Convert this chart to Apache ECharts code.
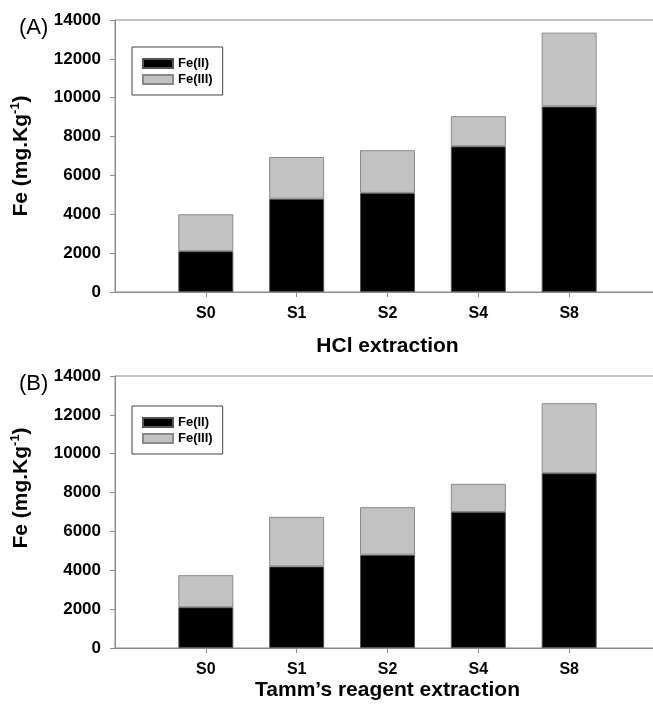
<!DOCTYPE html>
<html>
<head>
<meta charset="utf-8">
<script src="https://cdn.jsdelivr.net/npm/echarts@6/dist/echarts.min.js"></script>
<style>
html,body{margin:0;padding:0;background:#fff;}
#chart{width:653px;height:706px;}
</style>
</head>
<body>
<div id="chart"></div>
<script>
// ---- data ----
var categories = ['S0', 'S1', 'S2', 'S4', 'S8'];
var hclFe2 = [2100, 4800, 5100, 7500, 9550];
var hclFe3 = [1900, 2150, 2200, 1550, 3800];
var tammFe2 = [2100, 4200, 4800, 7000, 9000];
var tammFe3 = [1650, 2550, 2450, 1450, 3600];
var seriesNames = ['Fe(II)', 'Fe(III)'];
var panelLabels = ['(A)', '(B)'];
var xNames = ['HCl extraction', 'Tamm\u2019s reagent extraction'];
var yMin = 0, yMax = 14000, yStep = 2000;

// ---- build ----
var FONT = 'Liberation Sans, Arial, sans-serif';
var axisCats = [''].concat(categories, ['']);
function pad(arr) { return ['-'].concat(arr, ['-']); }
var AX = '#8a8a8a';

var grids = [
  {left: 115, top: 20, height: 272, width: 545, outerBoundsMode: 'none', containLabel: false, show: true, borderColor: AX, borderWidth: 1},
  {left: 115, top: 376, height: 272, width: 545, outerBoundsMode: 'none', containLabel: false, show: true, borderColor: AX, borderWidth: 1}
];

function xAxisFor(i, gap) {
  return {
    type: 'category', gridIndex: i, data: axisCats, boundaryGap: false,
    axisLine: {lineStyle: {color: AX, width: 1}},
    axisTick: {show: true, length: 5, lineStyle: {color: AX}, interval: function (idx) { return idx > 0 && idx < axisCats.length - 1; }},
    axisLabel: {color: '#000', fontFamily: FONT, fontWeight: 'bold', fontSize: 16, margin: 14, interval: 0},
    name: xNames[i], nameLocation: 'middle', nameGap: gap,
    nameTextStyle: {color: '#000', fontFamily: FONT, fontWeight: 'bold', fontSize: 21},
    splitLine: {show: false}
  };
}
function yAxisFor(i, padding) {
  return {
    type: 'value', gridIndex: i, min: yMin, max: yMax, interval: yStep,
    axisLine: {show: true, lineStyle: {color: AX, width: 1}},
    axisTick: {show: true, length: 5, lineStyle: {color: AX}},
    axisLabel: {color: '#000', fontFamily: FONT, fontWeight: 'bold', fontSize: 17, margin: 14,
      formatter: function (v) { return String(v); }},
    splitLine: {show: false},
    name: '{a|Fe (mg.Kg}{s|-1}{a|)}', nameLocation: 'middle', nameRotate: 90, nameGap: 82,
    nameTextStyle: {
      padding: padding,
      rich: {
        a: {fontFamily: FONT, fontWeight: 'bold', fontSize: 21, color: '#000', lineHeight: 24},
        s: {fontFamily: FONT, fontWeight: 'bold', fontSize: 13, color: '#000', verticalAlign: 'top', lineHeight: 24}
      }
    }
  };
}

var fe2Style = {color: '#000', borderColor: '#555', borderWidth: 1};
var fe3Style = {color: '#c2c2c2', borderColor: '#8a8a8a', borderWidth: 1};

function barsFor(i, d2, d3) {
  return [
    {name: seriesNames[0], type: 'bar', stack: 'p' + i, xAxisIndex: i, yAxisIndex: i, data: pad(d2), barWidth: 55, itemStyle: fe2Style},
    {name: seriesNames[1], type: 'bar', stack: 'p' + i, xAxisIndex: i, yAxisIndex: i, data: pad(d3), barWidth: 55, itemStyle: fe3Style}
  ];
}

function legendFor(top) {
  return {
    orient: 'vertical', left: 132, top: top, data: seriesNames, icon: 'rect',
    itemWidth: 30, itemHeight: 9, itemGap: 1,
    borderColor: '#444', borderWidth: 1, padding: [9, 10, 8, 10],
    textStyle: {fontFamily: FONT, fontWeight: 'bold', fontSize: 13, color: '#000', lineHeight: 15},
    selectedMode: false
  };
}

var option = {
  animation: false,
  backgroundColor: '#fff',
  title: [
    {text: panelLabels[0], left: 14, top: 12, textStyle: {fontFamily: FONT, fontWeight: 'normal', fontSize: 22, color: '#000'}},
    {text: panelLabels[1], left: 14, top: 368, textStyle: {fontFamily: FONT, fontWeight: 'normal', fontSize: 22, color: '#000'}}
  ],
  legend: [legendFor(47), legendFor(406)],
  grid: grids,
  xAxis: [xAxisFor(0, 44), xAxisFor(1, 32)],
  yAxis: [yAxisFor(0, [0, 0, 0, 0]), yAxisFor(1, [0, 0, 0, 48])],
  series: barsFor(0, hclFe2, hclFe3).concat(barsFor(1, tammFe2, tammFe3))
};

var chart = echarts.init(document.getElementById('chart'), null, {renderer: 'canvas'});
chart.setOption(option);
</script>
</body>
</html>
